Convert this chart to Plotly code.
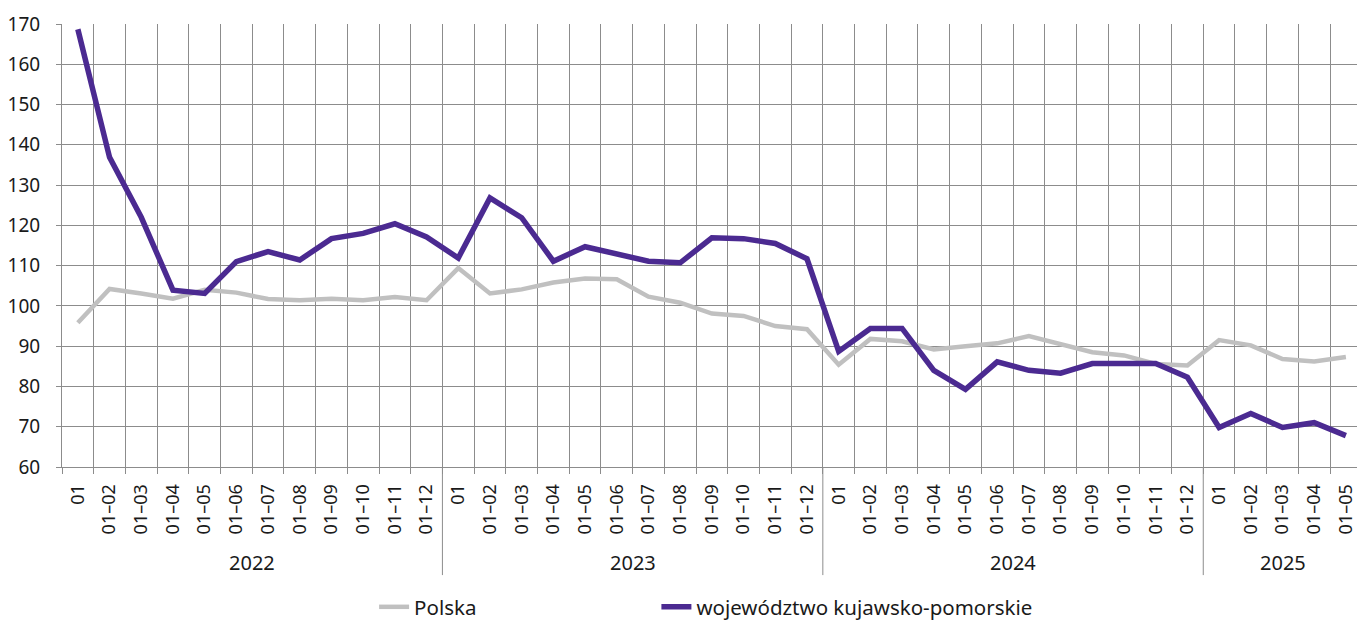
import plotly.graph_objects as go

years = ["2022", "2023", "2024", "2025"]
months_per_year = [12, 12, 12, 5]
month_labels = ["01", "01–02", "01–03", "01–04", "01–05", "01–06",
                "01–07", "01–08", "01–09", "01–10", "01–11", "01–12"]

polska = [95.8, 104.2, 103.1, 101.8, 104.0, 103.3, 101.7, 101.4, 101.8, 101.4, 102.2, 101.4,
          109.4, 103.1, 104.1, 105.8, 106.8, 106.6, 102.3, 100.8, 98.1, 97.5, 95.0, 94.2,
          85.4, 91.8, 91.2, 89.2, 90.0, 90.7, 92.5, 90.4, 88.5, 87.7, 85.6, 85.2,
          91.5, 90.2, 86.8, 86.2, 87.3]
kujawsko = [168.7, 136.9, 122.0, 103.9, 103.1, 111.0, 113.5, 111.4, 116.7, 118.0, 120.4, 117.1,
            111.9, 126.8, 121.9, 111.1, 114.7, 113.0, 111.1, 110.7, 116.9, 116.7, 115.5, 111.7,
            88.7, 94.4, 94.4, 84.0, 79.3, 86.1, 84.0, 83.3, 85.7, 85.7, 85.7, 82.3,
            69.8, 73.3, 69.8, 71.0, 67.8]

ticktext = []
for n in months_per_year:
    ticktext += month_labels[:n]
xs = list(range(len(ticktext)))
boundaries = [i - 0.5 for i in range(len(xs) + 1)]

GRID = "#8c8c8c"
FONT = "Noto Sans"

fig = go.Figure()
fig.add_trace(go.Scatter(x=xs, y=polska, mode="lines", name="Polska",
                         line=dict(color="#c0c0c0", width=4.5), legend="legend"))
fig.add_trace(go.Scatter(x=xs, y=kujawsko, mode="lines", name="województwo kujawsko-pomorskie",
                         line=dict(color="#4b2a91", width=5.5), legend="legend2"))

# year separators and labels
start = 0
sep_depth = -0.244
for yr, n in zip(years, months_per_year):
    center = start + (n - 1) / 2
    fig.add_annotation(x=center, y=-0.2167, xref="x", yref="paper", text=yr,
                       showarrow=False, yanchor="middle",
                       font=dict(size=20, color="#1a1a1a", family=FONT))
    end = start + n
    if end < len(xs):
        fig.add_shape(type="line", xref="x", yref="paper", x0=end - 0.5, x1=end - 0.5,
                      y0=0, y1=sep_depth, line=dict(color=GRID, width=1))
    start = end

leg_common = dict(orientation="h", xanchor="left", y=-0.316, yanchor="middle",
                  font=dict(size=20.5, family=FONT, color="#1a1a1a"), bgcolor="rgba(0,0,0,0)")

fig.update_layout(
    width=1357, height=621,
    margin=dict(l=62, r=0, t=24, b=154, autoexpand=False),
    plot_bgcolor="white", paper_bgcolor="white",
    font=dict(family=FONT, color="#1a1a1a"),
    showlegend=True,
    legend=dict(x=0.241, **leg_common),
    legend2=dict(x=0.459, **leg_common),
    xaxis=dict(range=[-0.5, 40.35], tickmode="array", tickvals=xs, ticktext=ticktext,
               tickangle=-90, tickfont=dict(size=18, family=FONT), ticks="",
               ticklabelstandoff=9, automargin=False,
               showgrid=False, zeroline=False, showline=True, linecolor=GRID, linewidth=1,
               minor=dict(tickmode="array", tickvals=boundaries, ticks="outside", ticklen=6,
                          tickcolor=GRID, showgrid=True, gridcolor=GRID, gridwidth=1)),
    yaxis=dict(range=[60, 170], tickmode="linear", tick0=60, dtick=10,
               tickfont=dict(size=19, family=FONT), ticks="outside", ticklen=5,
               ticklabelstandoff=12, automargin=False,
               tickcolor=GRID, showgrid=True, gridcolor=GRID, gridwidth=1,
               zeroline=False, showline=True, linecolor=GRID, linewidth=1),
)

fig.write_html("out.html", config={"displayModeBar": False},
               post_script="document.body.style.margin='0';document.body.style.overflow='hidden';")
